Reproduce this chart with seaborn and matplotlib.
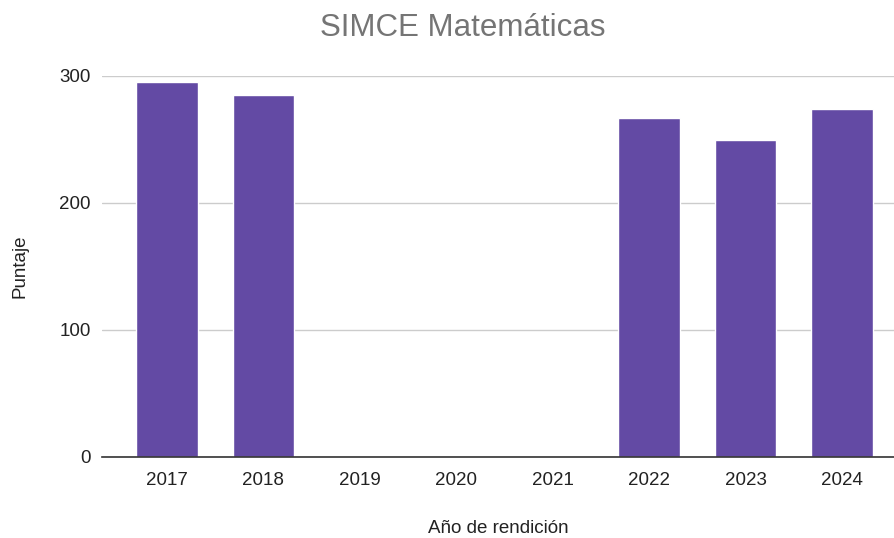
import numpy as np
import pandas as pd
import matplotlib
matplotlib.use("Agg")
import matplotlib.pyplot as plt
import seaborn as sns

years = ["2017", "2018", "2019", "2020", "2021", "2022", "2023", "2024"]
puntaje = [295, 285, np.nan, np.nan, np.nan, 267, 249, 274]

df = pd.DataFrame({"Año": years, "Puntaje": puntaje})

sns.set_theme(style="white")
plt.rcParams['font.family'] = ['Liberation Sans', 'DejaVu Sans']

fig = plt.figure(figsize=(8.95, 5.38), dpi=100)
ax = fig.add_axes([102 / 895, 1 - 456.7 / 538, 1 - 102 / 895, (456.7 - 75.7) / 538])

sns.barplot(data=df, x="Año", y="Puntaje", order=years, color="#634AA4",
            saturation=1, width=0.64, ax=ax)

ax.set_ylim(0, 300)
ax.set_xlim(-0.674, 7.55)
ax.set_yticks([0, 100, 200, 300])
ax.yaxis.grid(True, color="#cccccc", linewidth=1)
ax.set_axisbelow(True)
for s in ["top", "right", "left"]:
    ax.spines[s].set_visible(False)
ax.spines["bottom"].set_color("#333333")
ax.spines["bottom"].set_linewidth(1.2)
ax.tick_params(axis="both", length=0, labelsize=13.5, colors="#222222")
ax.tick_params(axis="x", pad=11)
ax.tick_params(axis="y", pad=8)

ax.set_xlabel("Año de rendición", fontsize=13.5, color="#222222", labelpad=22)
ax.set_ylabel("Puntaje", fontsize=13.5, color="#222222", labelpad=22)
fig.text(463 / 895, 1 - 28 / 538, "SIMCE Matemáticas",
         ha="center", va="center", fontsize=22.5, color="#757575")

fig.savefig("out.png", dpi=100)
